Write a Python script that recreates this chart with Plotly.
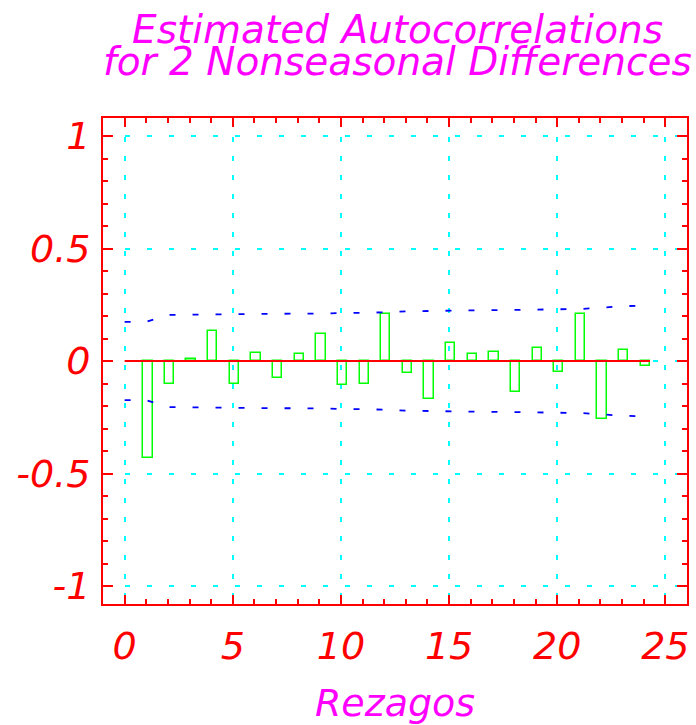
import plotly.graph_objects as go

# ---- data ----
lags = list(range(1, 25))
acf = [-0.433, -0.100, 0.010, 0.134, -0.104, 0.035, -0.076, 0.029,
       0.118, -0.106, -0.100, 0.208, -0.055, -0.171, 0.078, 0.032,
       0.038, -0.138, 0.060, -0.050, 0.207, -0.257, 0.051, -0.024]

limit_lags = list(range(0, 25))
upper_limit = [0.174, 0.174, 0.205, 0.205, 0.205, 0.208, 0.209, 0.209, 0.210,
               0.211, 0.213, 0.214, 0.216, 0.221, 0.222, 0.226, 0.227, 0.227,
               0.227, 0.230, 0.230, 0.231, 0.236, 0.244, 0.245]
lower_limit = [-0.174, -0.174, -0.205, -0.205, -0.205, -0.208, -0.209, -0.209, -0.210,
               -0.211, -0.213, -0.214, -0.216, -0.221, -0.222, -0.226, -0.227, -0.227,
               -0.227, -0.230, -0.230, -0.231, -0.236, -0.244, -0.245]

x_tick_vals = [0, 5, 10, 15, 20, 25]
x_tick_text = ["0", "5", "10", "15", "20", "25"]
y_tick_vals = [-1, -0.5, 0, 0.5, 1]
y_tick_text = ["-1", "-0.5", "0", "0.5", "1"]

title_line1 = "Estimated Autocorrelations"
title_line2 = "for 2 Nonseasonal Differences"
x_title = "Rezagos"

FONT = "DejaVu Sans"
RED = "#ff0000"
MAGENTA = "#ff00ff"
CYAN = "#00ffff"
GREEN = "#00ff00"
BLUE = "#0000ff"

fig = go.Figure()

fig.add_trace(go.Bar(
    x=lags, y=acf, width=0.43, offset=-0.14,
    marker=dict(color="rgba(0,0,0,0)", line=dict(color=GREEN, width=1.5)),
    showlegend=False, hoverinfo="x+y",
))

fig.add_trace(go.Scatter(
    x=[0, lags[-1] + 0.29], y=[0, 0], mode="lines",
    line=dict(color=RED, width=2), showlegend=False, hoverinfo="skip",
))

for lim in (upper_limit, lower_limit):
    fig.add_trace(go.Scatter(
        x=limit_lags, y=lim, mode="lines",
        line=dict(color=BLUE, width=1.8, dash="6px,17px"),
        showlegend=False,
    ))

tickfont = dict(family=FONT, size=38, color=RED, style="italic")

fig.update_layout(
    width=696, height=725,
    margin=dict(l=103, r=9, t=118, b=121, autoexpand=False),
    paper_bgcolor="white", plot_bgcolor="white",
    bargap=0,
    xaxis=dict(
        range=[-1, 26], automargin=False,
        tickmode="array", tickvals=x_tick_vals, ticktext=x_tick_text,
        ticks="inside", ticklen=9, tickwidth=1.5, tickcolor=RED,
        showline=True, linecolor=RED, linewidth=2, mirror="ticks",
        showgrid=True, gridcolor=CYAN, gridwidth=1.5, griddash="5px,14px",
        zeroline=False,
        tickfont=tickfont, ticklabelstandoff=7,
        minor=dict(tickmode="linear", tick0=0, dtick=1, ticks="inside",
                   ticklen=5, tickwidth=1.5, tickcolor=RED, showgrid=False),
        title=dict(text=x_title, standoff=25,
                   font=dict(family=FONT, size=38, color=MAGENTA, style="italic")),
    ),
    yaxis=dict(
        range=[-1.08, 1.08], automargin=False,
        tickmode="array", tickvals=y_tick_vals, ticktext=y_tick_text,
        ticks="inside", ticklen=10, tickwidth=1.5, tickcolor=RED,
        showline=True, linecolor=RED, linewidth=2, mirror="ticks",
        showgrid=True, gridcolor=CYAN, gridwidth=1.5, griddash="5px,17px",
        zeroline=False,
        tickfont=tickfont, ticklabelstandoff=3,
        minor=dict(tickmode="linear", tick0=0, dtick=0.1, ticks="inside",
                   ticklen=5, tickwidth=1.5, tickcolor=RED, showgrid=False),
    ),
    annotations=[
        dict(text=title_line1, xref="paper", yref="paper", x=0.505, y=1.183,
             xanchor="center", yanchor="middle", showarrow=False,
             font=dict(family=FONT, size=39, color=MAGENTA, style="italic")),
        dict(text=title_line2, xref="paper", yref="paper", x=0.505, y=1.117,
             xanchor="center", yanchor="middle", showarrow=False,
             font=dict(family=FONT, size=39, color=MAGENTA, style="italic")),
    ],
)

fig.write_html("out.html")
